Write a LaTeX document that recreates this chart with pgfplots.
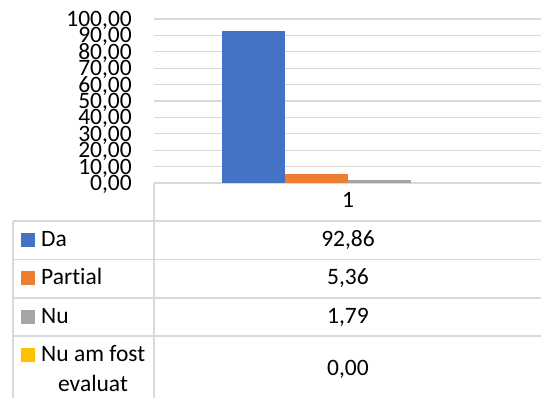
\documentclass[border=0pt]{standalone}
\usepackage{pgfplots}
\pgfplotsset{compat=1.18}
\usepackage{fontspec}
\setmainfont{Carlito}[Ligatures=NoCommon]
\definecolor{xblue}{HTML}{4472C4}
\definecolor{xorange}{HTML}{ED7D31}
\definecolor{xgray}{HTML}{A5A5A5}
\definecolor{xyellow}{HTML}{FFC000}
\definecolor{gridgray}{HTML}{D9D9D9}
\begin{document}
\begin{tikzpicture}[x=1pt,y=1pt]
\path[use as bounding box, fill=white] (0,0) rectangle (541,398);
\begin{axis}[
  at={(154pt,215pt)}, anchor=south west,
  scale only axis, width=387pt, height=164pt,
  xmin=0.5, xmax=1.5, ymin=0, ymax=100,
  ytick={0,10,...,100}, xtick=\empty,
  ybar=0pt, bar width=63pt,
  ymajorgrids, grid style={color=gridgray, line width=1.3pt},
  axis line style={draw=none}, major tick length=0pt,
  /pgf/number format/fixed, /pgf/number format/fixed zerofill,
  /pgf/number format/precision=2, /pgf/number format/use comma,
  /pgf/number format/assume math mode=true,
  yticklabel style={font=\fontsize{23.5}{23.5}\selectfont, anchor=base east, inner sep=0pt, xshift=-22pt, yshift=-7.5pt},
  clip=false,
]
\addplot[fill=xblue, draw=none] coordinates {(1,92.86)};
\addplot[fill=xorange, draw=none] coordinates {(1,5.36)};
\addplot[fill=xgray, draw=none] coordinates {(1,1.79)};
\addplot[fill=xyellow, fill opacity=0, draw=none] coordinates {(1,0.00)};
\end{axis}
% data table
\begin{scope}[gridgray, line width=1.3pt]
\draw (154,215) -- (154,0);
\draw (13,177) -- (13,0);
\draw (13,177) -- (541,177);
\draw (13,138.5) -- (541,138.5);
\draw (13,100) -- (541,100);
\draw (13,62) -- (541,62);
\end{scope}
\begin{scope}[every node/.style={font=\fontsize{23.5}{26}\selectfont, inner sep=0pt}]
\node[anchor=base] at (348,190) {1};
\node[anchor=base] at (348,151) {92,86};
\node[anchor=base] at (348,113) {5,36};
\node[anchor=base] at (348,74) {1,79};
\node[anchor=base] at (348,22) {0,00};
\fill[xblue] (21,151) rectangle (35,165);
\fill[xorange] (21,113) rectangle (35,127);
\fill[xgray] (21,74) rectangle (35,88);
\fill[xyellow] (21,36) rectangle (35,50);
\node[anchor=base west] at (41,151) {Da};
\node[anchor=base west] at (41,113) {Partial};
\node[anchor=base west] at (41,74) {Nu};
\node[anchor=base west] at (41,36) {Nu am fost};
\node[anchor=base] at (93,6) {evaluat};
\end{scope}
\end{tikzpicture}
\end{document}
